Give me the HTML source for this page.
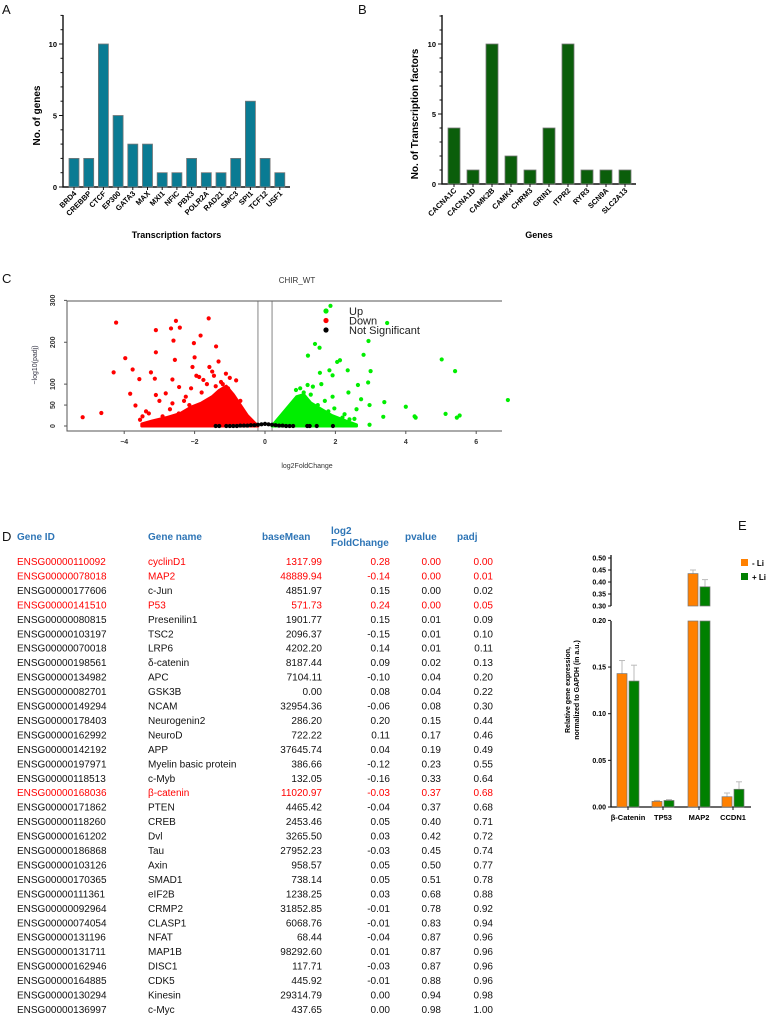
<!DOCTYPE html>
<html><head><meta charset="utf-8"><style>
html,body{margin:0;padding:0;background:#fff;}
svg{display:block;font-family:"Liberation Sans",Arial,sans-serif;}
</style></head><body>
<svg id="fig" width="768" height="1020" viewBox="0 0 768 1020" xmlns="http://www.w3.org/2000/svg">
<g id="gA"></g>
<g id="gB"></g>
<g id="gC"></g>
<g id="gD"></g>
<g id="gE"></g>
</svg>
<script>
const tfNames=["BRD4","CREBBP","CTCF","EP300","GATA3","MAX","MXI1","NFIC","PBX3","POLR2A","RAD21","SMC3","SPI1","TCF12","USF1"];
const tfCounts=[2,2,10,5,3,3,1,1,2,1,1,2,6,2,1];
const geneNames=["CACNA1C","CACNA1D","CAMK2B","CAMK4","CHRM3","GRIN1","ITPR2","RYR3","SCN9A","SLC2A13"];
const geneCounts=[4,1,10,2,1,4,10,1,1,1];
const barTicks=[0,5,10];
const upX=[1.86,3.47,1.42,1.55,1.22,2.94,2.8,5.02,5.4,2.05,2.13,1.83,1.92,1.56,2.35,3.0,2.93,2.64,2.37,2.73,3.39,4.0,2.97,4.25,4.28,5.13,5.53,5.45,3.36,2.97,2.54,2.4,2.26,1.97,2.11,1.21,1.36,0.88,1.92,1.7,2.6,1.1,1.5,1.8,2.2,6.9,1.3,1.0,0.7,1.6];
const upY=[287,246,196,187,168,203,170,159,131,153,157,133,121,127,133,131,104,98,80,64,57,46,50,23,20,29,25,20,22,3,17,16,28,42,11,98,94,86,70,60,40,80,50,35,20,62,75,90,45,100];
const downX=[-5.18,-4.65,-4.23,-4.3,-3.97,-3.76,-3.83,-3.68,-3.57,-3.1,-3.1,-3.24,-3.13,-3.1,-2.53,-2.67,-2.42,-2.6,-2.56,-1.6,-1.83,-2.02,-1.39,-2.0,-1.32,-2.06,-1.58,-2.63,-2.82,-3.38,-3.48,-3.1,-2.44,-1.87,-1.11,-0.82,-2.25,-2.91,-2.63,-1.95,-1.75,-1.5,-1.25,-1.0,-2.3,-2.1,-1.65,-1.4,-2.7,-3.0,-3.55,-3.3,-1.2,-0.9,-1.8,-2.15,-1.45,-2.45,-1.05,-0.7];
const downY=[21,31,247,128,162,135,77,49,112,229,176,128,113,74,251,233,235,204,158,257,216,198,190,164,154,141,141,111,78,35,23,7,93,117,125,109,70,23,54,120,110,130,105,115,60,90,100,95,40,60,15,30,100,70,80,50,120,30,90,60];
const nsX=[-1.4,-1.3,-1.1,-1.0,-0.9,-0.8,-0.7,-0.6,-0.5,-0.4,-0.3,-0.2,-0.1,0,0.1,0.2,0.3,0.4,0.5,0.6,0.7,0.8,1.2,1.27,1.47,1.93];
const nsY=[0,0,0,0,0,0,1,1,1,2,2,3,4,5,4,3,2,1,1,0,0,0,0,0,0,0];
const downCloudX=[-0.2,-0.3,-0.5,-0.7,-0.9,-1.1,-1.3,-1.5,-1.8,-2.1,-2.4,-2.8,-3.2,-3.5,-3.5];
const downCloudY=[0,8,25,50,75,95,85,70,55,45,30,20,12,5,0];
const upCloudX=[0.2,0.3,0.5,0.7,0.9,1.1,1.3,1.6,1.9,2.3,2.6,2.6];
const upCloudY=[0,10,30,50,70,75,55,40,25,12,3,0];
const volXTicks=[-4,-2,0,2,4,6];
const volYTicks=[0,50,100,200,300];
const tblGeneId=["ENSG00000110092","ENSG00000078018","ENSG00000177606","ENSG00000141510","ENSG00000080815","ENSG00000103197","ENSG00000070018","ENSG00000198561","ENSG00000134982","ENSG00000082701","ENSG00000149294","ENSG00000178403","ENSG00000162992","ENSG00000142192","ENSG00000197971","ENSG00000118513","ENSG00000168036","ENSG00000171862","ENSG00000118260","ENSG00000161202","ENSG00000186868","ENSG00000103126","ENSG00000170365","ENSG00000111361","ENSG00000092964","ENSG00000074054","ENSG00000131196","ENSG00000131711","ENSG00000162946","ENSG00000164885","ENSG00000130294","ENSG00000136997"];
const tblName=["cyclinD1","MAP2","c-Jun","P53","Presenilin1","TSC2","LRP6","δ-catenin","APC","GSK3B","NCAM","Neurogenin2","NeuroD","APP","Myelin basic protein","c-Myb","β-catenin","PTEN","CREB","Dvl","Tau","Axin","SMAD1","eIF2B","CRMP2","CLASP1","NFAT","MAP1B","DISC1","CDK5","Kinesin","c-Myc"];
const tblBase=["1317.99","48889.94","4851.97","571.73","1901.77","2096.37","4202.20","8187.44","7104.11","0.00","32954.36","286.20","722.22","37645.74","386.66","132.05","11020.97","4465.42","2453.46","3265.50","27952.23","958.57","738.14","1238.25","31852.85","6068.76","68.44","98292.60","117.71","445.92","29314.79","437.65"];
const tblLog2=["0.28","-0.14","0.15","0.24","0.15","-0.15","0.14","0.09","-0.10","0.08","-0.06","0.20","0.11","0.04","-0.12","-0.16","-0.03","-0.04","0.05","0.03","-0.03","0.05","0.05","0.03","-0.01","-0.01","-0.04","0.01","-0.03","-0.01","0.00","0.00"];
const tblP=["0.00","0.00","0.00","0.00","0.01","0.01","0.01","0.02","0.04","0.04","0.08","0.15","0.17","0.19","0.23","0.33","0.37","0.37","0.40","0.42","0.45","0.50","0.51","0.68","0.78","0.83","0.87","0.87","0.87","0.88","0.94","0.98"];
const tblPadj=["0.00","0.01","0.02","0.05","0.09","0.10","0.11","0.13","0.20","0.22","0.30","0.44","0.46","0.49","0.55","0.64","0.68","0.68","0.71","0.72","0.74","0.77","0.78","0.88","0.92","0.94","0.96","0.96","0.96","0.96","0.98","1.00"];
const redRows=[0,1,3,16];
const eCats=["β-Catenin","TP53","MAP2","CCDN1"];
const eMinus=[0.143,0.006,0.435,0.011];
const eMinusErr=[0.014,0.001,0.015,0.004];
const ePlus=[0.135,0.007,0.38,0.019];
const ePlusErr=[0.017,0.001,0.03,0.008];
const eLowTicks=["0.00","0.05","0.10","0.15","0.20"];
const eHighTicks=["0.30","0.35","0.40","0.45","0.50"];

const NS="http://www.w3.org/2000/svg";
function mk(parent,tag,attrs,text){const e=document.createElementNS(NS,tag);for(const k in attrs)e.setAttribute(k,attrs[k]);if(text!==undefined)e.textContent=text;parent.appendChild(e);return e;}

function barPanel(g,letter,lx,axX,axEnd,y0,pxPer,c0,step,bw,names,vals,color,ylabel,ylx,xtitle){
  const yS=v=>y0-v*pxPer;
  let t=mk(g,"text",{x:lx,y:14,"font-size":13,fill:"#111"},letter);
  
  
  let ax=mk(g,"path",{d:`M${axX} 15 V${y0} H${axEnd}`,stroke:"#111","stroke-width":1.4,fill:"none"});
  
  
  for(let v=0;v<=12;v++){const l=mk(g,"line",{x1:axX-(v%5==0?4:2.5),x2:axX,y1:yS(v),y2:yS(v),stroke:"#111","stroke-width":1});
    
    }
  barTicks.forEach(v=>{const tt=mk(g,"text",{x:axX-6,y:yS(v)+3,"font-size":7.5,"font-weight":"bold","text-anchor":"end"},String(v));
    
    });
  names.forEach((n,i)=>{const cx=c0+i*step;
    const r=mk(g,"rect",{x:cx-bw/2,y:yS(vals[i]),width:bw,height:vals[i]*pxPer,fill:color,stroke:"#777","stroke-width":0.8});
    
    
    const tk=mk(g,"line",{x1:cx,x2:cx,y1:y0,y2:y0+3,stroke:"#111"});
    
    
    const lb=mk(g,"text",{x:cx+3,y:y0+7,"font-size":7.5,"font-weight":"bold","text-anchor":"end",transform:`rotate(-45 ${cx+3} ${y0+7})`},n);
    
    });
  const yl=mk(g,"text",{x:ylx,y:yS(5),"font-size":10,"font-weight":"bold","text-anchor":"middle",transform:`rotate(-90 ${ylx} ${yS(5)})`},ylabel);
  
  
  const xl=mk(g,"text",{x:(axX+axEnd)/2,y:238,"font-size":9,"font-weight":"bold","text-anchor":"middle"},xtitle);
  
  
}
barPanel(document.getElementById("gA"),"A",2,63,290,187,14.3,74,14.7,10,tfNames,tfCounts,"#0a7b93","No. of genes",40,"Transcription factors");
barPanel(document.getElementById("gB"),"B",358,442,636,184,14,454,19,12,geneNames,geneCounts,"#0b5e0b","No. of Transcription factors",418,"Genes");

(function(){
  const g=document.getElementById("gC");
  const xS=v=>265+v*35.2, yS=v=>426-v*0.4187;
  let t=mk(g,"text",{x:2,y:283,"font-size":13,fill:"#111"},"C");
  
  
  t=mk(g,"text",{x:297,y:283,"font-size":8,"text-anchor":"middle",fill:"#333"},"CHIR_WT");
  
  
  const box=mk(g,"path",{d:"M67 301 H502 M67 301 V431 H502",stroke:"#555","stroke-width":1,fill:"none"});
  
  
  [-0.2,0.2].forEach(v=>{const l=mk(g,"line",{x1:xS(v),x2:xS(v),y1:301,y2:431,stroke:"#666","stroke-width":0.8});
    
    });
  volXTicks.forEach(v=>{const l=mk(g,"line",{x1:xS(v),x2:xS(v),y1:431,y2:434,stroke:"#555"});
    
    
    const tt=mk(g,"text",{x:xS(v),y:444,"font-size":7,"font-weight":"bold","text-anchor":"middle",fill:"#333"},v<0?"−"+(-v):String(v));
    
    });
  volYTicks.forEach(v=>{const l=mk(g,"line",{x1:64,x2:67,y1:yS(v),y2:yS(v),stroke:"#555"});
    
    
    const tt=mk(g,"text",{x:55,y:yS(v),"font-size":7,"font-weight":"bold","text-anchor":"middle",fill:"#333",transform:`rotate(-90 55 ${yS(v)})`},String(v));
    
    });
  let yl=mk(g,"text",{x:37,y:365,"font-size":7,"text-anchor":"middle",fill:"#334",transform:"rotate(-90 37 365)"},"−log10(padj)");
  
  
  let xl=mk(g,"text",{x:307,y:468,"font-size":7,"text-anchor":"middle",fill:"#333"},"log2FoldChange");
  
  
  const poly=(xs,ys,c,nm)=>{const p=mk(g,"polygon",{points:xs.map((x,i)=>xS(x)+","+yS(ys[i])).join(" "),fill:c,stroke:c,"stroke-width":3,"stroke-linejoin":"round"});
    
    };
  poly(downCloudX,downCloudY,"#ff0000","down-dense-cloud");
  poly(upCloudX,upCloudY,"#00ee00","up-dense-cloud");
  const dots=(xs,ys,c,nm)=>xs.forEach((x,i)=>{const d=mk(g,"circle",{cx:xS(x),cy:yS(ys[i]),r:2.1,fill:c});
    
    });
  dots(downX,downY,"#ff0000","down-point");
  dots(upX,upY,"#00ee00","up-point");
  dots(nsX,nsY,"#000","ns-point");
  [["Up","#00ee00"],["Down","#ff0000"],["Not Significant","#000"]].forEach((e,i)=>{
    const y=311+i*9.5;
    const c=mk(g,"circle",{cx:326,cy:y,r:2.6,fill:e[1]});
    
    
    const tt=mk(g,"text",{x:349,y:y+4,"font-size":11,fill:"#222"},e[0]);
    
    });
})();

(function(){
  const g=document.getElementById("gD");
  let t=mk(g,"text",{x:2,y:541,"font-size":13,fill:"#111"},"D");
  
  
  const hdr=[["Gene ID",17,540,"start"],["Gene name",148,540,"start"],["baseMean",262,540,"start"],["log2",331,534,"start"],["FoldChange",331,546,"start"],["pvalue",405,540,"start"],["padj",457,540,"start"]];
  hdr.forEach(h=>{const e=mk(g,"text",{x:h[1],y:h[2],"font-size":10,"font-weight":"bold",fill:"#2e75b6","text-anchor":h[3]},h[0]);
    
    });
  tblGeneId.forEach((id,i)=>{
    const y=565+i*14.45, c=redRows.includes(i)?"#ff0000":"#111";
    const cells=[[id,17,"start"],[tblName[i],148,"start"],[tblBase[i],322,"end"],[tblLog2[i],390,"end"],[tblP[i],441,"end"],[tblPadj[i],493,"end"]];
    cells.forEach(cl=>{const e=mk(g,"text",{x:cl[1],y:y,"font-size":10,fill:c,"text-anchor":cl[2]},cl[0]);
      
      });
  });
})();

(function(){
  const g=document.getElementById("gE");
  const axX=611, axEnd=751;
  const yLow=v=>807-v*933;
  const yHigh=v=>606-(v-0.30)*240;
  const yV=v=>v<=0.2?yLow(v):(v>=0.3?yHigh(v):606);
  let t=mk(g,"text",{x:738,y:530,"font-size":13,fill:"#111"},"E");
  
  
  let a=mk(g,"path",{d:`M${axX} 555 V606 M${axX} 621 V807 H${axEnd}`,stroke:"#111","stroke-width":1.3,fill:"none"});
  
  
  eLowTicks.forEach(s=>{const y=yLow(parseFloat(s));
    const l=mk(g,"line",{x1:axX-3,x2:axX,y1:y,y2:y,stroke:"#111"});
    
    
    const tt=mk(g,"text",{x:axX-5,y:y+2.5,"font-size":7,"font-weight":"bold","text-anchor":"end"},s);
    
    });
  eHighTicks.forEach(s=>{const y=yHigh(parseFloat(s));
    const l=mk(g,"line",{x1:axX-3,x2:axX,y1:y,y2:y,stroke:"#111"});
    
    
    const tt=mk(g,"text",{x:axX-5,y:y+2.5,"font-size":7,"font-weight":"bold","text-anchor":"end"},s);
    
    });
  const centers=[628,663,699,733];
  eCats.forEach((c,i)=>{const cx=centers[i];
    [[eMinus[i],eMinusErr[i],"#ff8000",-6],[ePlus[i],ePlusErr[i],"#008000",6]].forEach(b=>{
      const bx=cx+b[3]-5, top=yV(b[0]);
      const er=mk(g,"line",{x1:cx+b[3],x2:cx+b[3],y1:top,y2:yV(b[0]+b[1]),stroke:"#bbb","stroke-width":1});
      
      
      const cap=mk(g,"line",{x1:cx+b[3]-3,x2:cx+b[3]+3,y1:yV(b[0]+b[1]),y2:yV(b[0]+b[1]),stroke:"#bbb"});
      
      
      let r;
      if(b[0]>0.2){
        r=mk(g,"rect",{x:bx,y:top,width:10,height:606-top,fill:b[2],stroke:"#777","stroke-width":0.7});
        const r2=mk(g,"rect",{x:bx,y:621,width:10,height:186,fill:b[2],stroke:"#777","stroke-width":0.7});
        
        
      } else {
        r=mk(g,"rect",{x:bx,y:top,width:10,height:807-top,fill:b[2],stroke:"#777","stroke-width":0.7});
      }
      
      
    });
    const tk=mk(g,"line",{x1:cx,x2:cx,y1:807,y2:810,stroke:"#111"});
    
    
    const lb=mk(g,"text",{x:cx,y:820,"font-size":7.5,"font-weight":"bold","text-anchor":"middle"},c);
    
    });
  [["- Li","#ff8000",563],["+ Li","#008000",577]].forEach(e=>{
    const r=mk(g,"rect",{x:741,y:e[2]-4,width:7,height:7,fill:e[1]});
    
    
    const tt=mk(g,"text",{x:752,y:e[2]+3,"font-size":8,"font-weight":"bold"},e[0]);
    
    });
  const y1=mk(g,"text",{x:570,y:690,"font-size":7,"font-weight":"bold","text-anchor":"middle",transform:"rotate(-90 570 690)"},"Relative gene expression,");
  
  
  const y2=mk(g,"text",{x:579,y:690,"font-size":7,"font-weight":"bold","text-anchor":"middle",transform:"rotate(-90 579 690)"},"normalized to GAPDH (in a.u.)");
  
  
})();
</script>
</body></html>
